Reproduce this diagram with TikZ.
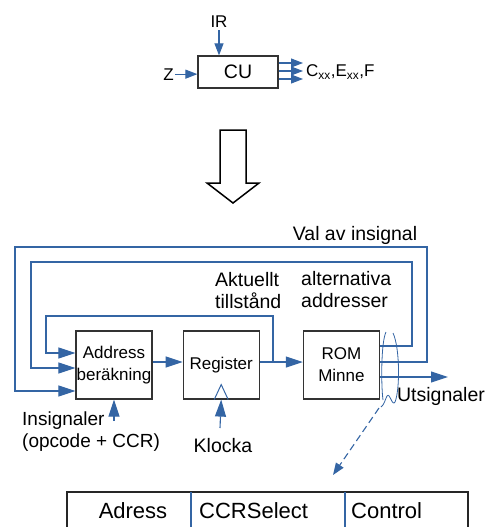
\documentclass[tikz,border=0pt]{standalone}
\usepackage{fontspec}
\setmainfont{Liberation Sans}
\usetikzlibrary{arrows.meta,positioning}
\definecolor{sigblue}{HTML}{3465A4}

\begin{document}
\begin{tikzpicture}[x=1pt,y=-1pt,
    sig/.style={draw=sigblue,line width=1.1pt},
    sigarrow/.style={sig,-{Triangle[length=17pt,width=11pt]}},
    sigsmall/.style={sig,-{Triangle[length=12pt,width=9pt]}},
    font=\fontsize{19.5}{22}\selectfont]
  \tikzstyle{blockN}=[rectangle,draw=black!80,line width=1.2pt,minimum width=76pt,minimum height=68pt,align=center,inner sep=0pt,font=\fontsize{17}{22}\selectfont]
  \tikzstyle{labelN}=[inner sep=0pt,align=left]

  \useasboundingbox (0,0) rectangle (488,527);

  % CU overview
  \node[blockN, minimum width=80pt, minimum height=32pt, font=\fontsize{19.5}{22}\selectfont] (cu) at (238,72) {CU};
  \node[labelN, anchor=base, inner sep=2pt, font=\fontsize{17}{20}\selectfont] (ir) at (219,28) {IR};
  \node[labelN, anchor=base, inner sep=1pt, font=\fontsize{17}{20}\selectfont] (z) at (168.5,80) {Z};
  \node[labelN, anchor=west, font=\fontsize{17}{20}\selectfont] (cxx) at (306,72) {C\textsubscript{xx},E\textsubscript{xx},F};
  \coordinate (o1) at (303,63);
  \coordinate (o2) at (303,71);
  \coordinate (o3) at (303,79);

  \draw[sigsmall] (ir.south) -- (ir.south |- cu.north);
  \draw[sigsmall] (z.east) -- (z.east -| cu.west);
  \foreach \o in {o1,o2,o3}
    \draw[sigsmall] (cu.east |- \o) -- (\o);

  % hollow arrow
  \draw[line width=1.5pt, line join=miter] (220,130) -- (246,130) -- (246,183) -- (259,183)
    -- (233,203) -- (207,183) -- (220,183) -- cycle;

  % blocks
  \node[blockN] (addr) at (114,365) {Address\\beräkning};
  \node[blockN] (reg) [right=30pt of addr] {Register};
  \node[blockN] (rom) [right=43pt of reg] {ROM\\Minne};

  \coordinate (tap) at (273,362);
  \coordinate (loopA) at (46,316);
  \coordinate (loopB) at (412,262);
  \coordinate (loopC) at (427,247);
  \coordinate (insig) at (114,421);
  \coordinate (clk) at (220,428);
  \coordinate (utend) at (448,377);

  \draw[sigarrow] ([yshift=3pt]addr.east) -- ([yshift=3pt]reg.west);
  \draw[sigarrow] ([yshift=3pt]reg.east) -- ([yshift=3pt]rom.west);
  \draw[sigarrow] (tap) |- (loopA) |- ([yshift=12pt]addr.west);
  \draw[sigarrow] ([yshift=19pt]rom.east) -| (loopB) -| (31,368) -- ([yshift=-3pt]addr.west);
  \draw[sigarrow] ([yshift=3pt]rom.east) -| (loopC) -| (15,391) -- ([yshift=-26pt]addr.west);
  \draw[sigarrow] ([yshift=-12pt]rom.east) -- (utend);
  \draw[sigarrow] (insig) -- (addr.south);
  \draw[sigarrow] (clk) -- (reg.south);
  \draw[sig, line width=1pt] ([xshift=-7pt]reg.south) -- ([yshift=15pt]reg.south) -- ([xshift=7pt]reg.south);

  % bundle lasso
  \draw[sig, line width=0.8pt] (386,332) .. controls (381,342) and (381,385) .. (383,400);
  \draw[sig, line width=0.8pt] (393,333) .. controls (400,348) and (400,390) .. (395,402)
    .. controls (392,407) and (390,392) .. (387,396) .. controls (385,400) and (384,405) .. (381,407);
  \coordinate (lasso) at (379,408);
  \coordinate (fmt) at (333,475);
  \draw[sig, dashed, dash pattern=on 7pt off 4pt, -{Triangle[length=12pt,width=9pt]}] (lasso) -- (fmt);

  % labels
  \node[labelN, anchor=base] (valtxt) at (355,240) {Val av insignal};
  \node[labelN, anchor=north west] (akttxt) at (215,272) {Aktuellt\\tillstånd};
  \node[labelN, anchor=north west] (alttxt) at (301,271) {alternativa\\addresser};
  \node[labelN, anchor=base] (uttxt) at (441,401) {Utsignaler};
  \node[labelN, anchor=north west, font=\fontsize{19}{22}\selectfont] (insigtxt) at (22,412) {Insignaler\\(opcode + CCR)};
  \node[labelN, anchor=base] (klocka) at (223,452) {Klocka};

  % microword
  \node[draw=black!85, line width=1.2pt, minimum width=401pt, minimum height=44pt, inner sep=0pt] (word) at (267.5,514) {};
  \node[labelN, anchor=base, font=\fontsize{22}{24}\selectfont] (fadr) at (133,518) {Adress};
  \node[labelN, anchor=base west, font=\fontsize{22}{24}\selectfont] (fccr) at (199,518) {CCRSelect};
  \node[labelN, anchor=base west, font=\fontsize{22}{24}\selectfont] (fctl) at (351,518) {Control};
  \coordinate (div1) at (191,492);
  \coordinate (div2) at (345,492);
  \draw[sig] (div1) -- (div1 |- word.south);
  \draw[sig] (div2) -- (div2 |- word.south);
\end{tikzpicture}
\end{document}
